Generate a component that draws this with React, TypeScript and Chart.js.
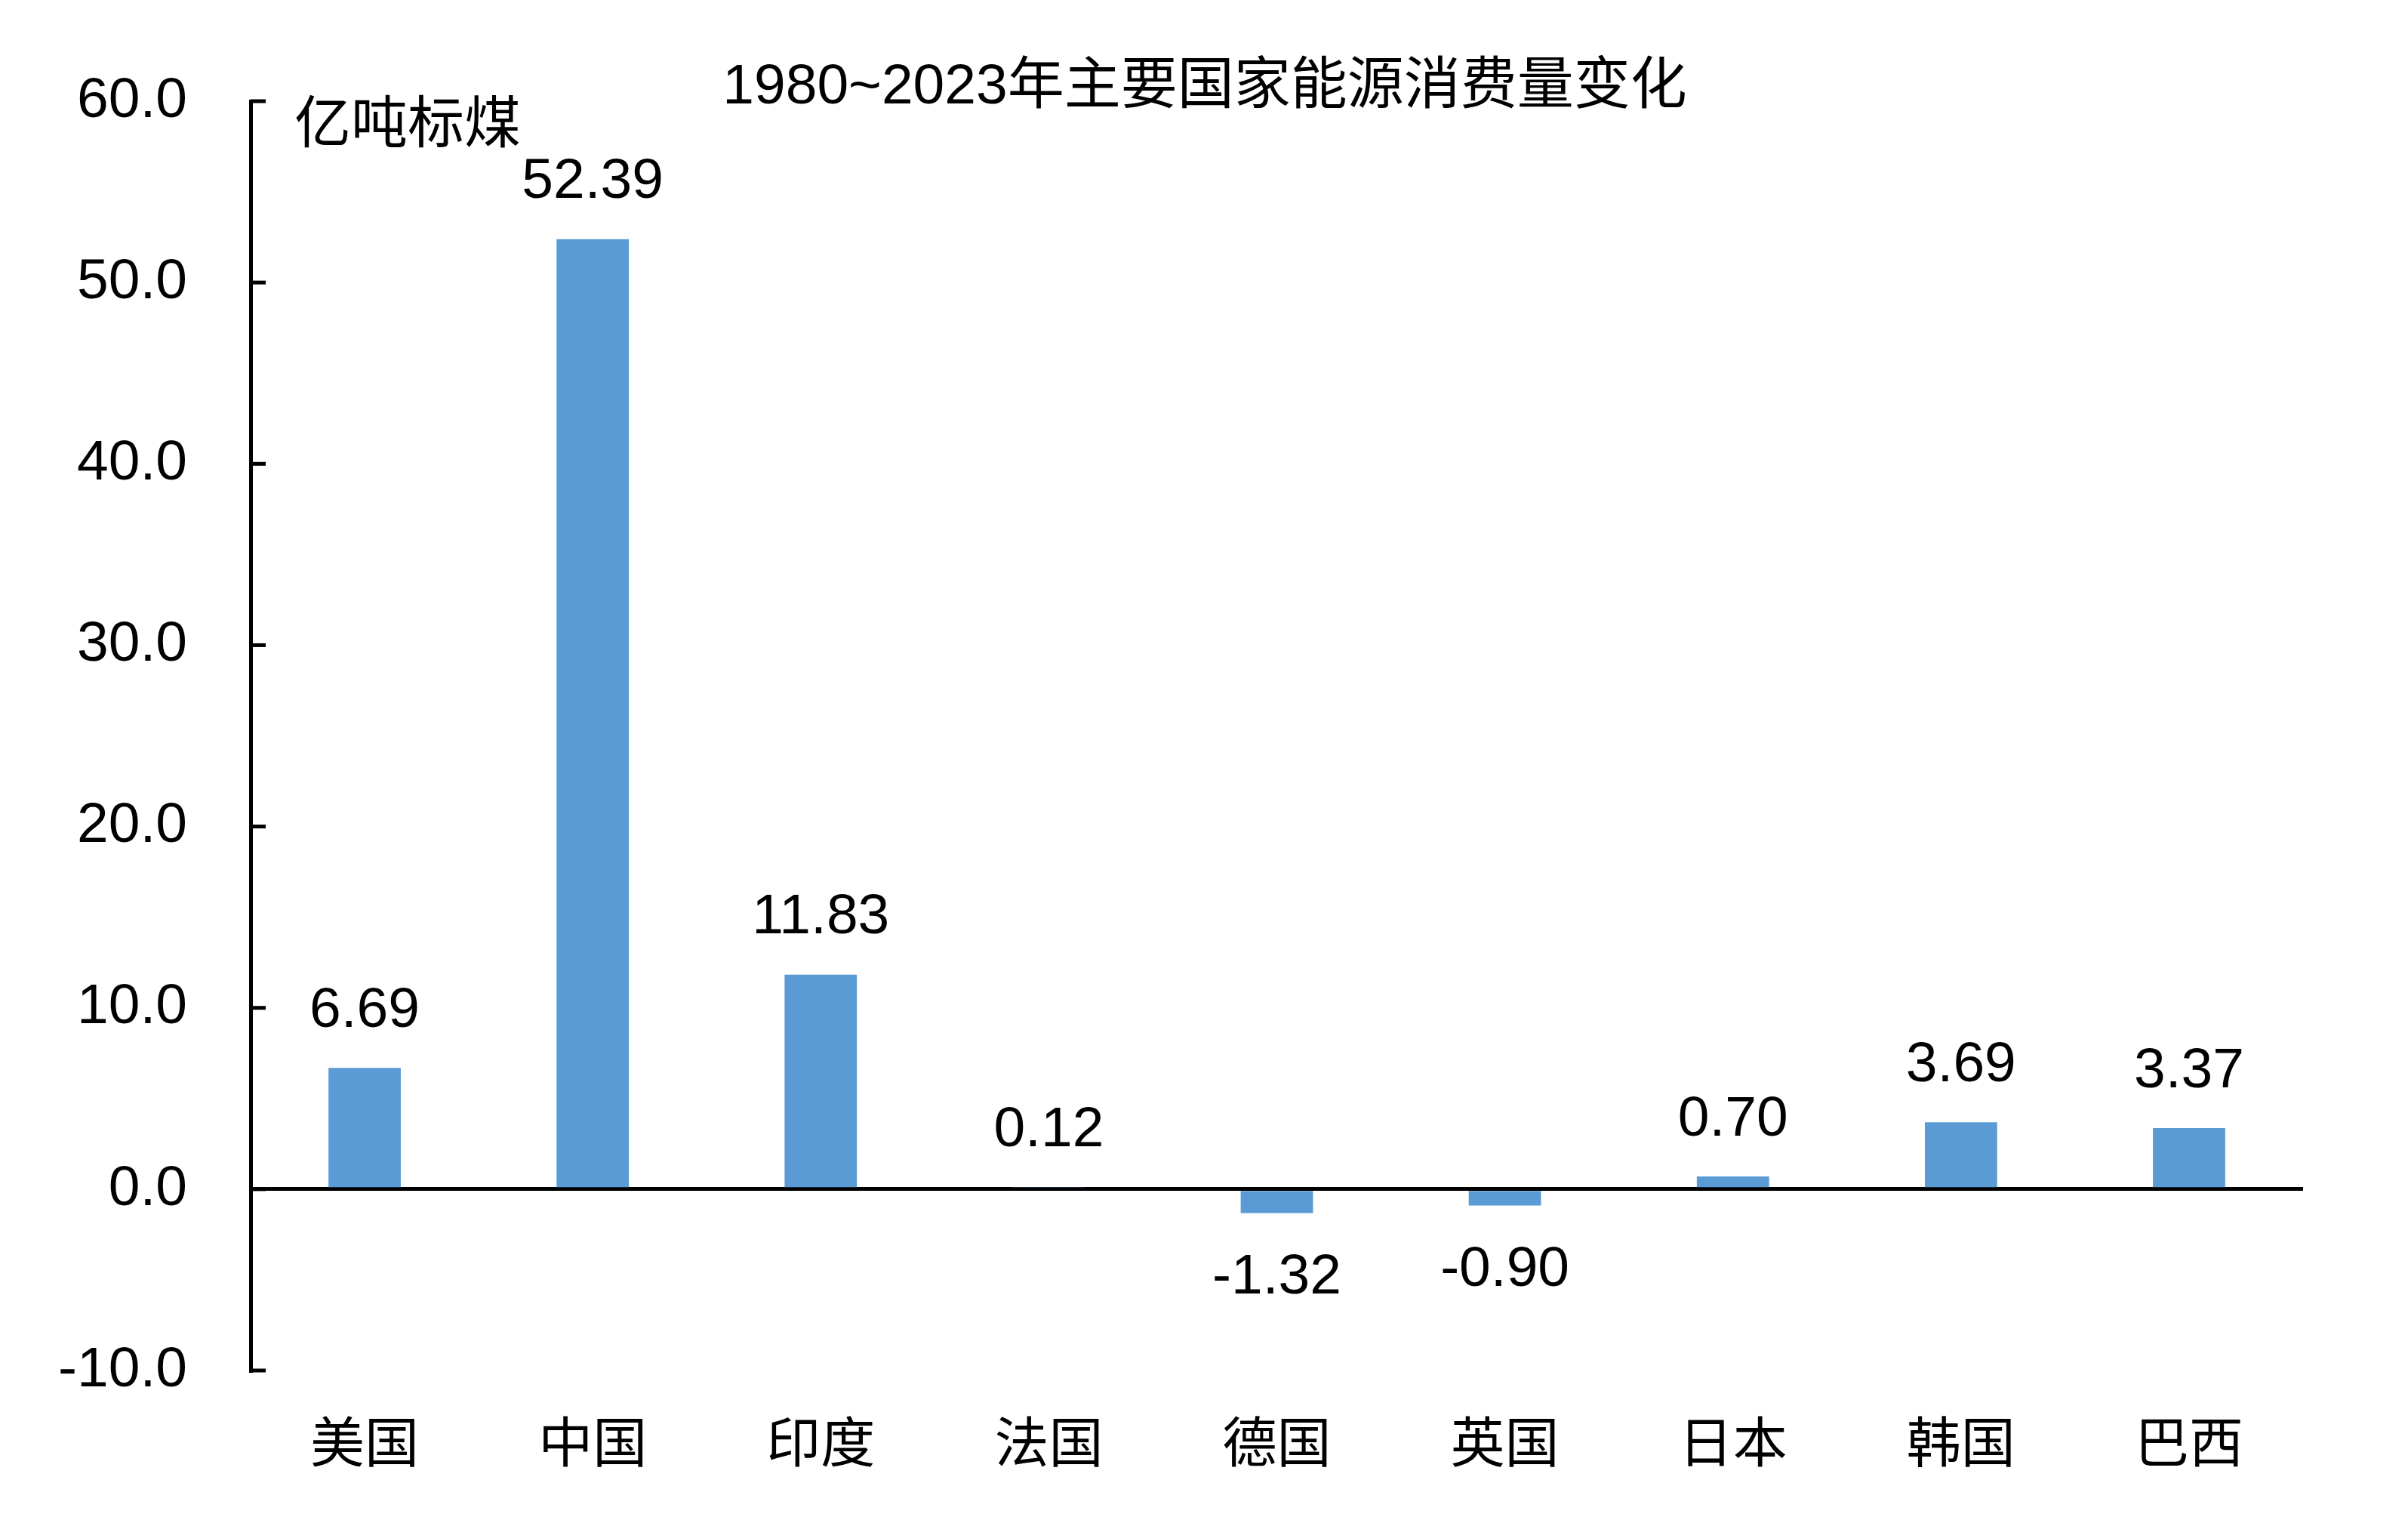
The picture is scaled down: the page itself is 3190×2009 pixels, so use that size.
import React, { useEffect, useRef } from "react";
import { Chart, registerables } from "chart.js";

Chart.register(...registerables);

const categories = ["美国", "中国", "印度", "法国", "德国", "英国", "日本", "韩国", "巴西"];
const values = [6.69, 52.39, 11.83, 0.12, -1.32, -0.9, 0.7, 3.69, 3.37];
const yMin = -10;
const yMax = 60;
const yStep = 10;
const titleText = "1980~2023年主要国家能源消费量变化";
const unitText = "亿吨标煤";

const W = 3190;
const H = 2009;
const FONT = "'Liberation Sans', Arial, 'Noto Sans CJK SC', sans-serif";
const CJK = "'Noto Sans CJK SC', 'Liberation Sans', sans-serif";

const overlayPlugin = {
  id: "overlay",
  afterDatasetsDraw(chart: any) {
    const ctx = chart.ctx;
    const area = chart.chartArea;
    const yScale = chart.scales.y;
    ctx.save();
    // inward tick marks on y axis
    ctx.strokeStyle = "#000";
    ctx.lineWidth = 5;
    yScale.ticks.forEach((t: any) => {
      const y = yScale.getPixelForValue(t.value);
      ctx.beginPath();
      ctx.moveTo(area.left, y);
      ctx.lineTo(area.left + 20, y);
      ctx.stroke();
    });
    // data labels
    const meta = chart.getDatasetMeta(0);
    ctx.fillStyle = "#000";
    ctx.font = `75px ${FONT}`;
    ctx.textAlign = "center";
    ctx.textBaseline = "middle";
    meta.data.forEach((bar: any, i: number) => {
      const v = values[i];
      const y = v >= 0 ? bar.y - 75 : bar.y + 86;
      ctx.fillText(v.toFixed(2), bar.x, y);
    });
    // unit label
    ctx.font = `75px ${CJK}`;
    ctx.textAlign = "left";
    ctx.fillText(unitText, 390, 160);
    // title
    ctx.font = `75px ${FONT}`;
    ctx.textAlign = "center";
    ctx.fillText(titleText, 1596, 116);
    ctx.restore();
  },
};

export default function App() {
  const ref = useRef<HTMLCanvasElement | null>(null);
  useEffect(() => {
    if (!ref.current) return;
    const chart = new Chart(ref.current, {
      type: "bar",
      data: {
        labels: categories,
        datasets: [
          {
            data: values,
            backgroundColor: "#5B9BD5",
            borderWidth: 0,
            categoryPercentage: 1,
            barPercentage: 0.317,
          },
        ],
      },
      options: {
        responsive: false,
        animation: false,
        devicePixelRatio: 1,
        layout: { padding: { left: 0, right: W - 3051, top: 134, bottom: 0 } },
        plugins: { legend: { display: false }, tooltip: { enabled: false }, title: { display: false } },
        scales: {
          x: {
            grid: { display: false, drawTicks: false },
            border: { display: false },
            ticks: { color: "#000", font: { family: CJK, size: 72 }, padding: 50 },
            afterFit(scale: any) {
              scale.height = H - 1815;
            },
          },
          y: {
            min: yMin,
            max: yMax,
            ticks: {
              stepSize: yStep,
              color: "#000",
              font: { family: FONT, size: 75 },
              padding: 84,
              callback: (v: any) => Number(v).toFixed(1),
            },
            grid: {
              drawTicks: false,
              color: (c: any) => (c.tick && c.tick.value === 0 ? "#000" : "rgba(0,0,0,0)"),
              lineWidth: 5,
            },
            border: { display: true, color: "#000", width: 5 },
            afterFit(scale: any) {
              scale.width = 332;
            },
          },
        },
      },
      plugins: [overlayPlugin],
    });
    return () => chart.destroy();
  }, []);
  return (
    <div style={{ position: "fixed", left: 0, top: 0, width: W, height: H, background: "#fff" }}>
      <canvas ref={ref} width={W} height={H} style={{ width: W, height: H, display: "block" }} />
    </div>
  );
}
